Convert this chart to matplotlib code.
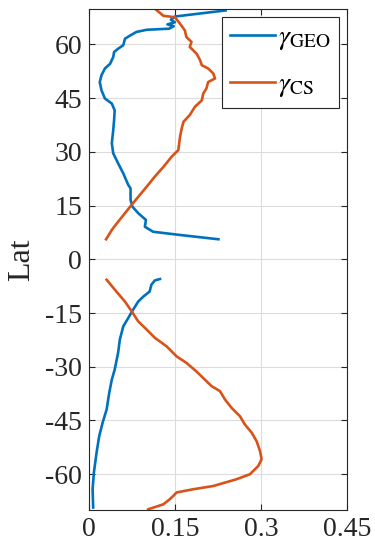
import matplotlib
matplotlib.use('Agg')
import matplotlib.pyplot as plt
import numpy as np

plt.rcParams['font.family'] = ['Liberation Serif', 'DejaVu Serif']
plt.rcParams['mathtext.fontset'] = 'stix'
plt.rcParams['axes.unicode_minus'] = False

# 北半球プロファイル
lat_geo_n = [69.5, 67.8, 66.9, 66.2, 65.6, 65.1, 64.4, 64.1, 63.5, 62.5, 61.6, 59.8, 58.8,
             57.9, 56.5, 54.6, 53.3, 51.4, 49.5, 47.2, 44.9, 43.5, 41.6, 38.9, 36.1,
             32.4, 29.6, 26.8, 24.0, 20.8, 19.8, 16.6, 14.7, 12.9, 11.0, 9.1, 7.7,
             6.8, 5.6]
geo_n = [0.2385, 0.150, 0.143, 0.150, 0.137, 0.148, 0.140, 0.101, 0.083, 0.072, 0.063, 0.060,
         0.051, 0.044, 0.0425, 0.037, 0.028, 0.022, 0.019, 0.022, 0.028, 0.040,
         0.045, 0.044, 0.0425, 0.040, 0.0425, 0.051, 0.060, 0.0686, 0.0727,
         0.0727, 0.076, 0.086, 0.0995, 0.0977, 0.112, 0.159, 0.226]

lat_cs_n = [69.6, 68.0, 67.6, 65.8, 63.9, 62.1, 60.7, 59.3, 57.4, 55.6, 54.2, 53.3, 51.9,
            50.5, 49.5, 47.7, 46.3, 44.4, 42.6, 40.3, 38.4, 36.6, 34.2, 30.5, 28.6,
            25.8, 23.1, 20.8, 18.0, 15.2, 12.9, 10.5, 8.2, 5.6]
cs_n = [0.118, 0.130, 0.150, 0.159, 0.1675, 0.170, 0.179, 0.176, 0.188, 0.194, 0.197,
        0.208, 0.217, 0.220, 0.208, 0.205, 0.1995, 0.197, 0.185, 0.176, 0.165,
        0.162, 0.159, 0.156, 0.144, 0.130, 0.115, 0.1035, 0.089, 0.0745, 0.063,
        0.051, 0.040, 0.030]

# 南半球プロファイル
lat_geo_s = [-5.5, -5.9, -7.1, -9.0, -10.4, -11.8, -14.1, -16.4, -18.7, -22.4, -26.1,
             -30.8, -33.6, -37.3, -41.9, -45.6, -49.4, -54.0, -59.6, -64.2, -69.3]
geo_s = [0.124, 0.115, 0.109, 0.106, 0.095, 0.086, 0.077, 0.0686, 0.060, 0.054, 0.051,
         0.045, 0.040, 0.0355, 0.031, 0.024, 0.018, 0.0134, 0.0087, 0.0065, 0.0075]

lat_cs_s = [-5.7, -9.0, -11.8, -14.5, -17.3, -19.6, -21.9, -24.3, -27.1, -28.9, -31.3,
            -33.6, -35.4, -36.8, -39.1, -41.5, -43.8, -46.1, -48.4, -50.8, -53.5,
            -55.8, -57.7, -60.0, -61.4, -63.3, -64.2, -65.1, -66.1, -67.0, -68.4,
            -69.8]
cs_s = [0.031, 0.048, 0.063, 0.0745, 0.086, 0.1007, 0.115, 0.1356, 0.153, 0.170,
        0.1876, 0.2024, 0.214, 0.2286, 0.2373, 0.249, 0.2635, 0.272, 0.284, 0.2926,
        0.2984, 0.3013, 0.2955, 0.281, 0.2577, 0.217, 0.182, 0.153, 0.147, 0.141,
        0.130, 0.1035]

xticks = [0, 0.15, 0.3, 0.45]
xticklabels = ['0', '0.15', '0.3', '0.45']
yticks = np.arange(-60, 61, 15)

c_geo = '#0072BD'
c_cs = '#D95319'

fig = plt.figure(figsize=(3.75, 5.54), dpi=100)
ax = fig.add_axes([0.237, 0.0794, 0.688, 0.905])

ax.plot(geo_n, lat_geo_n, color=c_geo, lw=1.9, label=r'$\gamma_{\rm GEO}$')
ax.plot(cs_n, lat_cs_n, color=c_cs, lw=1.9, label=r'$\gamma_{\rm CS}$')
ax.plot(geo_s, lat_geo_s, color=c_geo, lw=1.9)
ax.plot(cs_s, lat_cs_s, color=c_cs, lw=1.9)

ax.set_xlim(0, 0.45)
ax.set_ylim(-70, 70)
ax.set_xticks(xticks)
ax.set_xticklabels(xticklabels)
ax.set_yticks(yticks)
ax.tick_params(direction='in', labelsize=20, color='#262626', labelcolor='#262626',
               top=True, right=True, length=4, pad=5)
ax.grid(True, color='#dcdcdc', lw=0.8)
ax.set_axisbelow(True)
for s in ax.spines.values():
    s.set_color('#262626')
    s.set_linewidth(0.8)
ax.set_ylabel('Lat', fontsize=23, color='#262626', labelpad=6)

leg = ax.legend(loc='upper right', bbox_to_anchor=(0.969, 0.984), borderaxespad=0,
                fontsize=20, frameon=True, fancybox=False, edgecolor='#262626',
                handlelength=1.6, handletextpad=0.12, borderpad=0.3,
                labelspacing=0.7)
leg.get_frame().set_linewidth(0.8)
leg.get_frame().set_alpha(1)

fig.savefig('out.png', dpi=100)
